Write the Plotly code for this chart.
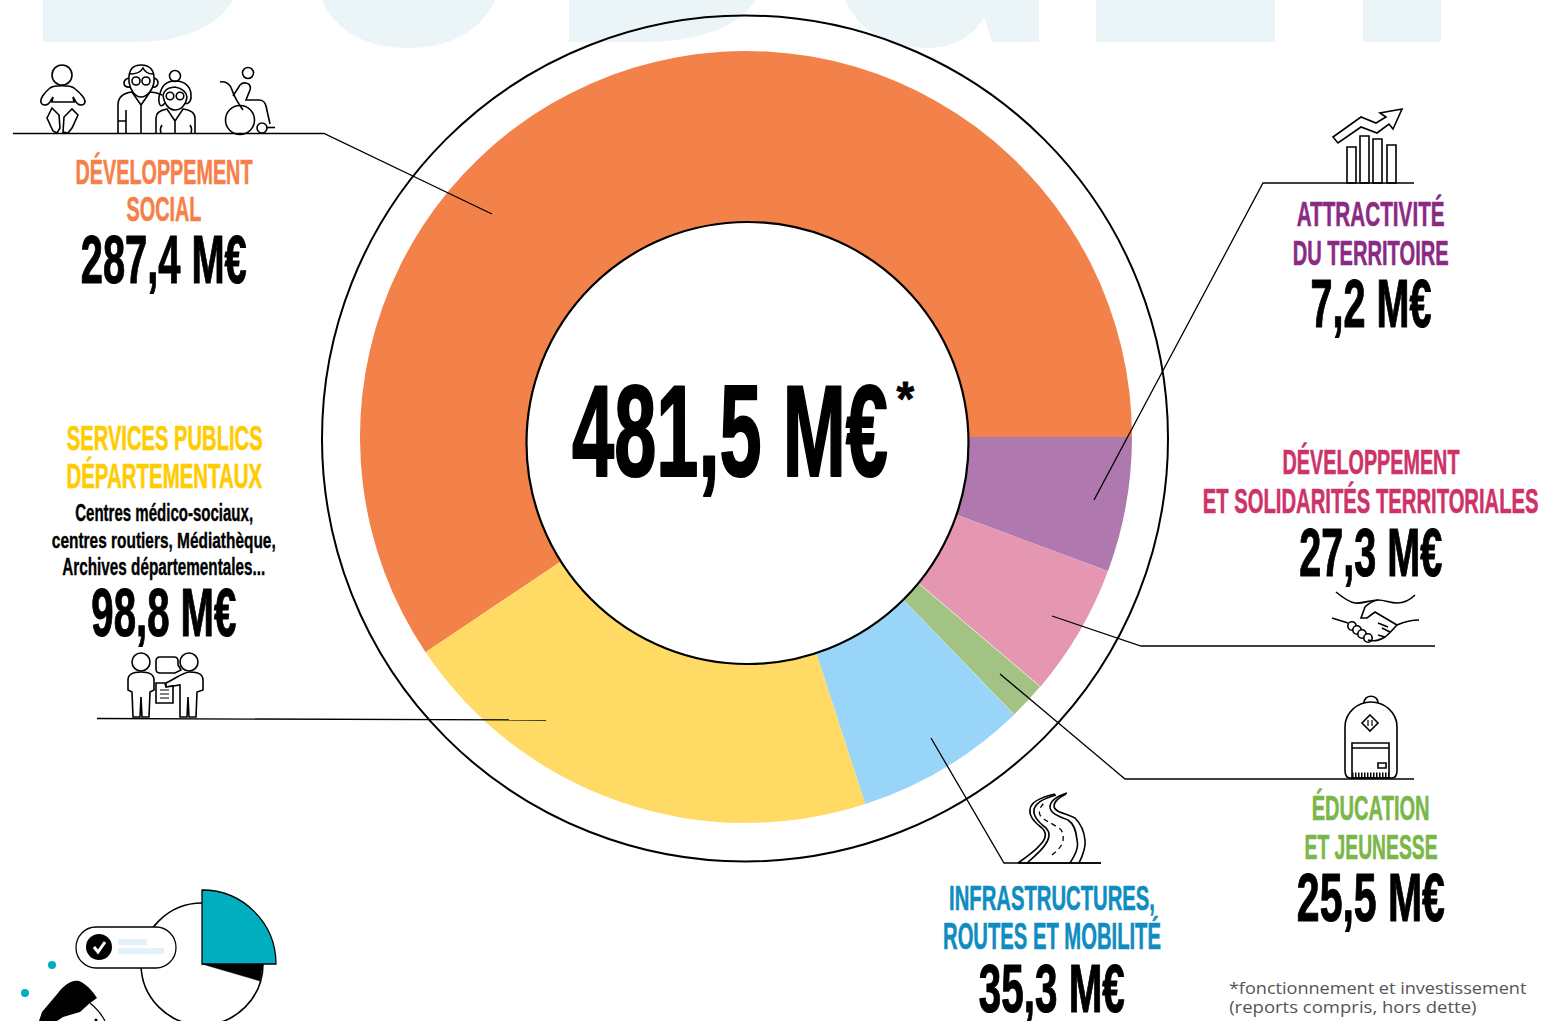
import json
import plotly.graph_objects as go

# ---- Data ----
CATEGORIES = ["Développement social", "Attractivité du territoire",
              "Développement et solidarités territoriales", "Éducation et jeunesse",
              "Infrastructures, routes et mobilité", "Services publics départementaux"]
AMOUNTS_LABEL = ["287,4 M€", "7,2 M€", "27,3 M€", "25,5 M€", "35,3 M€", "98,8 M€"]
TOTAL_LABEL = "481,5 M€"
# the ring is not drawn to scale: slice sizes as measured on the picture (degrees)
DRAWN_SHARE = [213.9, 20.3, 20.0, 5.7, 26.0, 74.1]
SLICE_COLORS = ["#F3814A", "#AF78AE", "#E597B2", "#A3C385", "#98D5F8", "#FFDB66"]

W, H = 1543, 1021
CX, CY, R = 746, 437, 386
NARROW = "Liberation Sans"
INK = "#000000"

shapes = []

def path(d, color=INK, width=1.6, fill=None, dash=None):
    line = dict(color=color, width=width)
    if dash:
        line["dash"] = dash
    s = dict(type="path", path=d, xref="x", yref="y", line=line, layer="above")
    if width == 0:
        s["line"] = dict(width=0)
    if fill:
        s["fillcolor"] = fill
    shapes.append(s)

def circle(cx, cy, r, color=INK, width=1.6, fill=None):
    s = dict(type="circle", x0=cx - r, x1=cx + r, y0=cy - r, y1=cy + r, xref="x", yref="y",
             line=dict(color=color, width=width), layer="above")
    if width == 0:
        s["line"] = dict(width=0)
    if fill:
        s["fillcolor"] = fill
    shapes.append(s)

def rect(x0, y0, x1, y1, color=INK, width=1.6, fill=None):
    s = dict(type="rect", x0=x0, x1=x1, y0=y0, y1=y1, xref="x", yref="y",
             line=dict(color=color, width=width), layer="above")
    if width == 0:
        s["line"] = dict(width=0)
    if fill:
        s["fillcolor"] = fill
    shapes.append(s)

# ---- pale background lettering, cropped by the top edge ----
PALE = "#EBF5F8"
def pale(d):
    shapes.append(dict(type="path", path=d, xref="x", yref="y", line=dict(width=0),
                       fillcolor=PALE, layer="below"))
pale("M43,0 L43,42 L130,42 C180,42 215,30 233,0 Z")
pale("M322,0 C335,30 365,48 408,48 C450,48 482,30 495,0 Z")
pale("M569,0 L569,42 L640,42 C695,42 735,30 756,0 Z")
pale("M845,0 C858,30 888,48 925,48 C955,48 975,35 984,17 L992,42 L1039,42 L1039,0 Z")
pale("M1096,0 L1096,42 L1275,42 L1275,0 Z")
pale("M1363,0 L1363,42 L1441,42 L1441,0 Z")

# ---- rings ----
circle(745, 438.5, 423, width=2)
circle(747.5, 443, 221, width=2.2, fill="white")

# ---- leader lines ----
for d in ["M13,133.5 L324,133.5 L492,214", "M1414,183 L1263,183 L1094,500",
          "M1435,646 L1141,646 L1052,616", "M1414,779 L1125,779 L1000,674",
          "M1101,863 L1004,863 L931,738", "M97,718.5 L546,720"]:
    path(d, width=1.3)

# ---- baby ----
circle(62, 75, 10)
path("M42,104 C38,100 45,92 50,88 C54,85 70,85 74,88 C79,92 88,100 84,104 C82,106 78,105 76,102 "
     "L73,97 L74,102 L52,102 L53,97 L50,102 C48,105 44,106 42,104 Z")
path("M47,118 L52,108 L59,115 L60,128 L57,133 L53,131 Z")
path("M78,115 L72,109 L64,117 L63,132 L68,133 L72,128 Z")
# ---- elderly couple ----
path("M118,133 L118,105 C118,97 124,93 132,92 L141,105 L150,92 C155,92 158,93 162,95 M141,105 L141,133 "
     "M118,121 L126,121 M126,133 L126,110")
path("M129,82 C128,68 134,65 141,65 C150,65 155,70 154,82 C153,90 147,97 141,97 C135,97 130,90 129,82 Z")
path("M129,78 C122,80 122,88 131,87 M154,78 C160,80 159,88 152,87 M130,74 C136,74 141,72 143,68 C145,72 149,74 153,74")
circle(136, 81, 4)
circle(146, 81, 4)
path("M165,103 C158,112 158,96 160,94 C162,84 168,81 175,81 C186,81 192,88 191,98 C190,104 186,104 185,103",
     width=1.6)
circle(175, 76, 5.5)
path("M163,95 C165,88 170,88 175,87 C180,88 186,90 187,97 C186,105 181,110 175,110 C169,110 164,104 163,95 Z",
     fill="white")
circle(170, 96, 3.8)
circle(180, 96, 3.8)
path("M156,133 L156,118 C156,112 161,110 167,109 L175,121 L183,109 C190,110 195,112 195,118 L195,133 "
     "M175,121 L175,133 M162,125 C160,128 160,130 161,133 M190,125 C192,128 192,130 191,133", fill=None)
# ---- wheelchair ----
circle(248, 73, 5.5)
circle(240, 120, 14.5)
circle(262, 128, 5, fill="white")
path("M220,82 C226,81 230,84 232,90 C234,96 238,103 243,110")
path("M233,96 L240,85 C244,81 252,83 250,90 L246,100 L259,100 C263,100 265,102 266,106 L270,124")
path("M266,127.5 L275,127.5")

# ---- meeting icon ----
circle(141, 662, 9)
path("M128,690 L128,680 C128,674 134,672 141,672 C148,672 154,674 154,680 L154,690 L150,692 L149,717 L142,717 "
     "L141,697 L140,717 L133,717 L132,692 Z")
circle(189, 662, 9)
path("M203,690 L203,680 C203,674 197,672 190,672 C184,672 176,678 170,681 L166,683 L166,687 L180,685 L180,717 "
     "L187,717 L188,697 L189,717 L196,717 L197,692 Z")
path("M160,657 L174,657 C177,657 178,659 178,661 L178,665 L181,670 L175,673 L160,673 C157,673 156,671 156,669 "
     "L156,661 C156,659 157,657 160,657 Z")
path("M156,683 L165,683 L166,687 L173,686 L173,703 L156,703 Z", fill="white")
path("M160,690 L169,690 M160,694 L169,694 M160,698 L169,698", width=1.2)

# ---- growth icon ----
rect(1347, 147, 1356, 183)
rect(1360, 136, 1369, 183)
rect(1373, 139, 1382, 183)
rect(1387, 145, 1396, 183)
path("M1333,137 L1361,117 L1376,123 L1386,117 L1380,113 L1402,109 L1393,129 L1389,124 L1377,133 L1361,127 L1338,143 Z")

# ---- handshake ----
path("M1336,592 C1342,597 1348,602 1355,603 C1362,604 1370,600 1378,600 C1385,600 1390,603 1397,603 "
     "C1404,603 1410,600 1415,595")
path("M1378,600 C1372,601 1368,604 1365,607 L1361,618 L1367,618 L1375,612 L1397,625 C1404,622 1412,620 1419,620")
path("M1332,618 L1348,623")
for fx, fy in [(1352, 626), (1357, 630), (1362, 634), (1368, 638)]:
    circle(fx, fy, 4.2, fill="white")
path("M1368,640 C1374,642 1380,640 1385,637 C1390,633 1394,628 1397,625")
path("M1378,623 L1388,627 M1382,628 L1390,632 M1378,635 L1385,637")

# ---- backpack ----
path("M1364,703 C1364,694 1378,694 1378,703")
path("M1350,778 C1346,778 1345,775 1345,770 L1345,727 C1345,712 1358,702 1371,702 C1384,702 1397,712 1397,727 "
     "L1397,770 C1397,775 1395,778 1392,778 Z")
path("M1370,715 L1378,723 L1370,731 L1362,723 Z")
path("M1368,720 L1368,726 M1372,720 L1372,726", width=1.2)
rect(1352, 743, 1389, 778)
path("M1352,748 L1389,748")
rect(1378, 763, 1386, 768)
path("M1352,775 L1389,775", width=5, dash="1.5px,1.5px")

# ---- road ----
path("M1018,863 C1028,856 1036,850 1040,845 C1047,838 1046,832 1042,828 C1034,822 1029,816 1030,810 "
     "C1030,802 1042,797 1055,794")
path("M1027,863 C1035,856 1042,850 1045,845 C1050,838 1050,832 1046,828 C1038,822 1033,816 1034,810 "
     "C1035,803 1045,798 1056,795")
path("M1070,863 C1075,855 1079,848 1077,840 C1076,830 1074,824 1068,820 C1058,816 1050,813 1050,807 "
     "C1050,800 1058,796 1067,793")
path("M1079,863 C1083,855 1086,848 1085,840 C1084,830 1081,824 1075,818 C1065,813 1054,812 1054,806 "
     "C1054,801 1060,797 1066,794")
path("M1052,855 C1058,850 1063,845 1063,840 C1064,834 1062,829 1057,827 C1050,822 1043,820 1040,815 "
     "C1038,810 1041,806 1045,802", width=1.3, dash="5px,4px")
path("M1018,863 L1101,863", width=1.3)

# ---- lower-left illustration ----
circle(202, 964, 61)
path("M202,964 L263,964 L260,981 Z", fill=INK, width=0.5)
path("M202,890 C243,890 276,923 276,964 L202,964 Z", fill="#00AEBF", width=1.3)
path("M96,927 L156,927 C167,927 176,936 176,947.5 C176,959 167,968 156,968 L96,968 C85,968 76,959 76,947.5 "
     "C76,936 85,927 96,927 Z", fill="white", width=1.3)
circle(99, 947, 13, fill=INK, width=0)
path("M94,947 L98,952 L105,942", color="white", width=3)
rect(118, 939, 147, 945, width=0, fill="#E2F1FA")
rect(118, 948, 164, 954, width=0, fill="#E2F1FA")
circle(52, 965, 4, fill="#00AEBF", width=0)
circle(25, 993, 4, fill="#00AEBF", width=0)
path("M39,1021 L42,1012 L58,993 C63,986 72,979 79,981 C85,983 92,990 97,998 L90,1003 L80,1012 L63,1017 L57,1021 Z",
     fill=INK, width=0)
path("M90,1003 C96,1008 102,1015 105,1021", width=1.2)
circle(96, 1020, 1.5, fill=INK, width=0)

# ---- text: (text, centre x, centre y, size, colour, width on the picture) ----
C_OR, C_YE, C_PU, C_PI, C_GR, C_BL = "#F68048", "#FFCC00", "#8A2A84", "#CD3268", "#7AB648", "#0F8CC0"
TEXTS = [
    ("DÉVELOPPEMENT", 163.5, 171, 36, C_OR, 177),
    ("SOCIAL", 163.5, 208, 36, C_OR, 75),
    (AMOUNTS_LABEL[0], 163.5, 259, 68, INK, 166),
    ("SERVICES PUBLICS", 164, 437, 36, C_YE, 196),
    ("DÉPARTEMENTAUX", 164, 475, 36, C_YE, 196),
    ("Centres médico-sociaux,", 164, 513, 23, INK, 178),
    ("centres routiers, Médiathèque,", 164, 540, 23, INK, 224),
    ("Archives départementales...", 164, 567, 23, INK, 203),
    (AMOUNTS_LABEL[5], 164, 612, 68, INK, 145),
    ("ATTRACTIVITÉ", 1370.5, 213, 36, C_PU, 148),
    ("DU TERRITOIRE", 1370.5, 252, 36, C_PU, 156),
    (AMOUNTS_LABEL[1], 1370.5, 303, 68, INK, 121),
    ("DÉVELOPPEMENT", 1371, 461, 36, C_PI, 177),
    ("ET SOLIDARITÉS TERRITORIALES", 1370.5, 500, 36, C_PI, 336),
    (AMOUNTS_LABEL[2], 1370.5, 552, 68, INK, 143),
    ("ÉDUCATION", 1370.5, 807, 36, C_GR, 118),
    ("ET JEUNESSE", 1370.5, 846, 36, C_GR, 133),
    (AMOUNTS_LABEL[3], 1371, 897, 68, INK, 148),
    ("INFRASTRUCTURES,", 1052, 897, 36, C_BL, 206),
    ("ROUTES ET MOBILITÉ", 1052, 936, 36, C_BL, 218),
    (AMOUNTS_LABEL[4], 1052, 988, 68, INK, 146),
    (TOTAL_LABEL, 730, 431, 130, INK, 316),
    ("*", 905, 398, 48, INK, 18),
]
annotations = [dict(text="<b>%s</b>" % t, x=x, y=y, xref="x", yref="y", xanchor="center", yanchor="middle",
                    showarrow=False, font=dict(family=NARROW, size=s, color=c))
               for t, x, y, s, c, _ in TEXTS]
FOOT = [("*fonctionnement et investissement", 1378, 988, 298), ("(reports compris, hors dette)", 1353, 1007, 248)]
annotations += [dict(text=t, x=x, y=y, xref="x", yref="y", xanchor="center", yanchor="middle", showarrow=False,
                     font=dict(family="Open Sans", size=16, color="#555555")) for t, x, y, _ in FOOT]
WIDTHS = [t[5] for t in TEXTS] + [f[3] for f in FOOT]
STROKES = [max(0, t[3] / 60) for t in TEXTS] + [0, 0]

fig = go.Figure()
fig.add_trace(go.Scatter(x=[], y=[], showlegend=False, hoverinfo="skip"))
fig.add_trace(go.Pie(
    labels=CATEGORIES, values=DRAWN_SHARE, sort=False, direction="clockwise", rotation=236.1,
    hole=215 / R, textinfo="none", hoverinfo="label", showlegend=False,
    marker=dict(colors=SLICE_COLORS, line=dict(color="white", width=[0, 0, 0, 0.6, 0, 0])),
    domain=dict(x=[(CX - R) / W, (CX + R) / W], y=[1 - (CY + R) / H, 1 - (CY - R) / H]),
))
fig.update_layout(
    width=W, height=H, margin=dict(l=0, r=0, t=0, b=0), autosize=False,
    paper_bgcolor="white", plot_bgcolor="white", showlegend=False,
    xaxis=dict(range=[0, W], visible=False, fixedrange=True, domain=[0, 1]),
    yaxis=dict(range=[H, 0], visible=False, fixedrange=True, domain=[0, 1]),
    shapes=shapes, annotations=annotations,
)

post = """
document.body.style.margin = '0';
document.documentElement.style.overflow = 'hidden';
var widths = %s;
var strokes = %s;
document.querySelectorAll('text.annotation-text').forEach(function (el, i) {
  var bb = el.getBBox();
  var s = widths[i] / bb.width;
  var cx = bb.x + bb.width / 2;
  el.setAttribute('transform', 'translate(' + cx + ',0) scale(' + s + ',1) translate(' + (-cx) + ',0)');
  if (strokes[i] > 0) {
    el.style.stroke = el.style.fill;
    el.style.strokeWidth = strokes[i] + 'px';
    el.style.strokeLinejoin = 'round';
  }
});
""" % (json.dumps(WIDTHS), json.dumps(STROKES))

fig.write_html("out.html", post_script=post, config=dict(displayModeBar=False, responsive=False))
